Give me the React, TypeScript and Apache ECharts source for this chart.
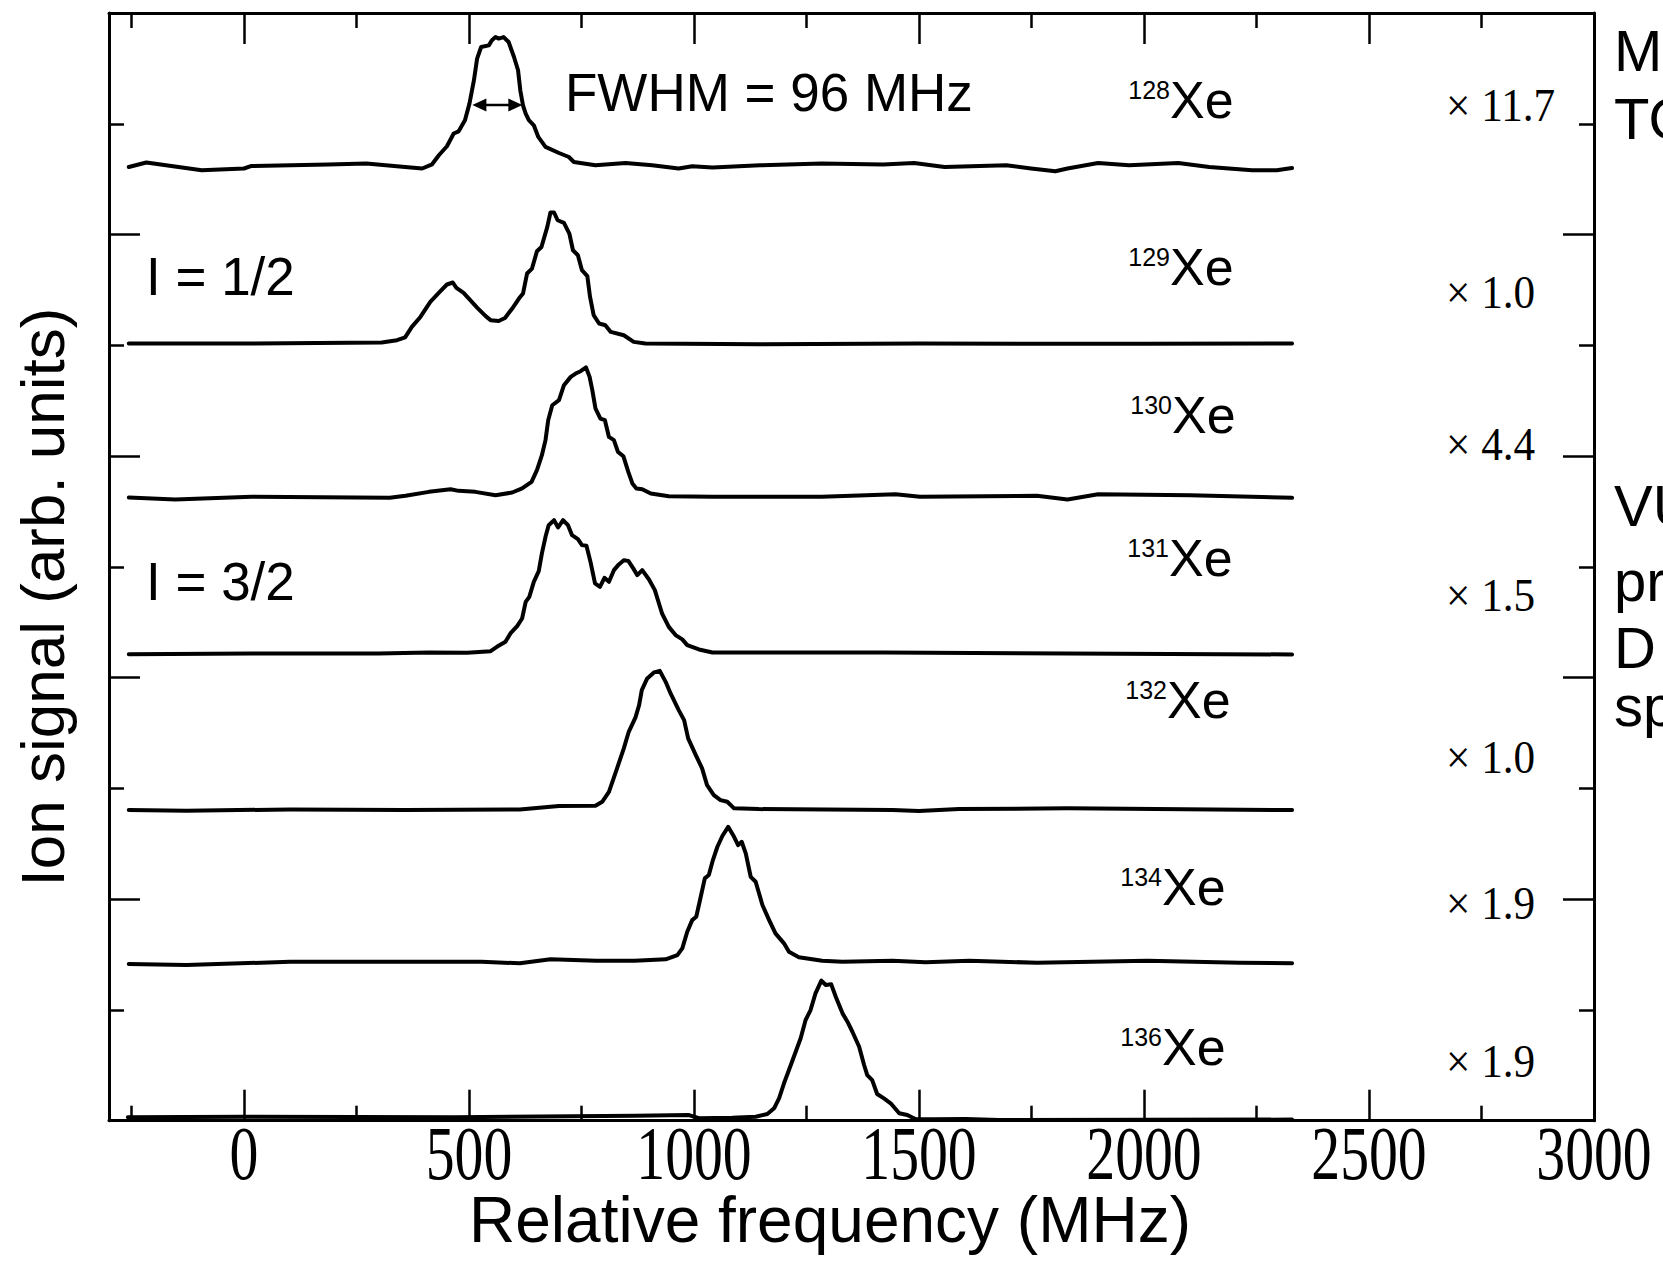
import React, { useEffect, useRef } from "react";
import * as echarts from "echarts";

// ---------- data (relative frequency in MHz, ion signal in arb. units incl. vertical offset) ----------
const xMin = -300;
const xMax = 3000;
const yMin = 0;
const yMax = 10;
const xMajorTicks = [0, 500, 1000, 1500, 2000, 2500, 3000];
const xMinorTicks = [-250, 250, 750, 1250, 1750, 2250, 2750];
const xTickLabels = ["0", "500", "1000", "1500", "2000", "2500", "3000"];

const xe128: number[][] = [
  [-256, 8.61], [-217, 8.65], [-94, 8.58], [0, 8.596], [17, 8.619], [187, 8.632], [272, 8.641],
  [358, 8.61], [396, 8.596], [418, 8.634], [433, 8.716], [451, 8.797], [466, 8.912], [477, 8.932],
  [491, 9.032], [501, 9.182], [511, 9.393], [518, 9.588], [527, 9.693], [544, 9.708], [551, 9.754],
  [559, 9.783], [566, 9.769], [577, 9.783], [588, 9.738], [600, 9.603], [609, 9.483], [614, 9.302],
  [620, 9.167], [626, 9.092], [633, 9.032], [644, 8.986], [654, 8.881], [670, 8.791], [700, 8.736],
  [722, 8.7], [733, 8.655], [781, 8.625], [848, 8.646], [907, 8.625], [966, 8.596], [996, 8.616],
  [1041, 8.605], [1147, 8.625], [1284, 8.641], [1420, 8.632], [1489, 8.646], [1557, 8.61],
  [1694, 8.625], [1749, 8.596], [1803, 8.571], [1830, 8.596], [1898, 8.646], [1967, 8.625],
  [2076, 8.646], [2145, 8.61], [2240, 8.58], [2295, 8.58], [2329, 8.601],
];

const xe129: number[][] = [
  [-256, 7.016], [17, 7.016], [306, 7.025], [340, 7.046], [358, 7.071], [373, 7.166], [392, 7.256],
  [414, 7.392], [437, 7.491], [451, 7.549], [464, 7.567], [472, 7.518], [488, 7.473], [518, 7.341],
  [537, 7.263], [548, 7.227], [566, 7.22], [580, 7.247], [596, 7.332], [611, 7.422], [620, 7.467],
  [629, 7.648], [640, 7.693], [651, 7.849], [661, 7.888], [674, 8.069], [681, 8.199], [689, 8.199],
  [697, 8.129], [711, 8.105], [723, 8.009], [731, 7.858], [742, 7.813], [751, 7.678], [763, 7.624],
  [769, 7.437], [777, 7.272], [789, 7.197], [803, 7.181], [815, 7.121], [844, 7.091], [866, 7.031],
  [892, 7.016], [1144, 7.01], [1500, 7.016], [2000, 7.013], [2329, 7.016],
];

const xe130: number[][] = [
  [-256, 5.626], [-153, 5.608], [17, 5.632], [324, 5.623], [359, 5.641], [411, 5.677], [459, 5.701],
  [477, 5.686], [514, 5.677], [559, 5.647], [596, 5.671], [618, 5.708], [639, 5.767], [651, 5.873],
  [662, 6.008], [670, 6.144], [676, 6.324], [685, 6.459], [700, 6.505], [711, 6.64], [726, 6.715],
  [737, 6.745], [748, 6.766], [760, 6.8], [768, 6.715], [774, 6.595], [781, 6.43], [792, 6.339],
  [802, 6.324], [811, 6.173], [822, 6.144], [831, 6.038], [843, 5.999], [854, 5.857], [863, 5.753],
  [872, 5.708], [885, 5.701], [904, 5.662], [944, 5.638], [1041, 5.632], [1284, 5.632],
  [1448, 5.656], [1502, 5.632], [1762, 5.641], [1830, 5.608], [1898, 5.656], [2103, 5.647],
  [2329, 5.623],
];

const xe131: number[][] = [
  [-256, 4.212], [17, 4.218], [299, 4.218], [411, 4.227], [496, 4.224], [548, 4.239], [562, 4.278],
  [581, 4.323], [592, 4.399], [607, 4.465], [618, 4.534], [626, 4.684], [634, 4.729], [644, 4.865],
  [655, 4.961], [662, 5.121], [670, 5.271], [677, 5.376], [689, 5.421], [698, 5.356], [709, 5.421],
  [720, 5.376], [729, 5.286], [742, 5.25], [751, 5.196], [761, 5.19], [770, 5.045], [780, 4.85],
  [791, 4.819], [801, 4.901], [811, 4.865], [822, 4.97], [833, 5.022], [844, 5.06], [854, 5.054],
  [865, 4.986], [874, 4.925], [885, 4.97], [900, 4.886], [913, 4.79], [929, 4.579], [944, 4.458],
  [959, 4.384], [974, 4.345], [985, 4.293], [1011, 4.254], [1041, 4.227], [1421, 4.227],
  [1830, 4.218], [2329, 4.209],
];

const xe132: number[][] = [
  [-256, 2.804], [-128, 2.798], [102, 2.81], [358, 2.804], [613, 2.81], [681, 2.834], [700, 2.84],
  [781, 2.843], [796, 2.879], [811, 2.969], [829, 3.181], [844, 3.361], [855, 3.511], [870, 3.641],
  [878, 3.752], [884, 3.887], [896, 3.993], [911, 4.047], [924, 4.061], [937, 3.962], [948, 3.857],
  [966, 3.707], [978, 3.616], [987, 3.451], [1004, 3.301], [1018, 3.181], [1029, 3.03],
  [1044, 2.94], [1059, 2.894], [1074, 2.879], [1089, 2.82], [1144, 2.813], [1293, 2.81],
  [1441, 2.804], [1500, 2.795], [1589, 2.813], [1830, 2.82], [2329, 2.804],
];

const xe134: number[][] = [
  [-256, 1.414], [-128, 1.405], [102, 1.435], [272, 1.435], [528, 1.435], [613, 1.421],
  [681, 1.457], [783, 1.444], [868, 1.444], [937, 1.457], [963, 1.495], [974, 1.556], [985, 1.706],
  [996, 1.811], [1005, 1.841], [1015, 2.022], [1024, 2.188], [1033, 2.218], [1042, 2.353],
  [1052, 2.473], [1063, 2.57], [1076, 2.653], [1089, 2.563], [1098, 2.488], [1106, 2.518],
  [1115, 2.413], [1126, 2.202], [1137, 2.157], [1152, 1.947], [1167, 1.811], [1181, 1.691],
  [1200, 1.601], [1211, 1.525], [1233, 1.475], [1285, 1.444], [1330, 1.435], [1441, 1.444],
  [1515, 1.43], [1612, 1.444], [1762, 1.426], [2008, 1.444], [2213, 1.426], [2329, 1.421],
];

const xe136: number[][] = [
  [-258, 0.031], [-3, 0.036], [468, 0.031], [869, 0.045], [989, 0.051], [1011, 0.022],
  [1085, 0.027], [1137, 0.036], [1163, 0.06], [1178, 0.112], [1189, 0.202], [1200, 0.338],
  [1211, 0.458], [1226, 0.623], [1237, 0.744], [1248, 0.909], [1259, 0.999], [1270, 1.15],
  [1283, 1.264], [1293, 1.225], [1305, 1.231], [1315, 1.119], [1330, 0.969], [1341, 0.894],
  [1352, 0.803], [1367, 0.668], [1378, 0.503], [1385, 0.412], [1396, 0.367], [1407, 0.241],
  [1422, 0.202], [1437, 0.157], [1456, 0.067], [1474, 0.051], [1493, 0.013], [1530, 0.013],
  [1604, 0.015], [1678, 0.006], [2329, 0.01],
];

const isotopes = ["128", "129", "130", "131", "132", "134", "136"];
const spectra = [xe128, xe129, xe130, xe131, xe132, xe134, xe136];
const multipliers = ["11.7", "1.0", "4.4", "1.5", "1.0", "1.9", "1.9"];

// FWHM arrow (arrow-head centres, MHz) and level
const fwhmArrowX = [523, 603];
const fwhmArrowLevel = 9.17;

const xTitle = "Relative frequency (MHz)";
const yTitle = "Ion signal (arb. units)";
const fwhmText = "FWHM = 96 MHz";
const spinTexts = ["I = 1/2", "I = 3/2"];
const sideTextsTop = ["M", "TO"];
const sideTextsBottom = ["VU", "pr", "D", "sp"];

// ---------- layout / styles ----------
const W = 1663;
const H = 1262;
const SANS = "'Liberation Sans', Arial, Helvetica, sans-serif";
const SERIF = "'Liberation Serif', 'Times New Roman', Times, serif";
const INK = "#000";

const isoLabelPos = [
  { x: 1170, base: 118 },
  { x: 1170, base: 285 },
  { x: 1172, base: 433 },
  { x: 1169, base: 576 },
  { x: 1167, base: 718 },
  { x: 1162, base: 905 },
  { x: 1162, base: 1065 },
];
const multPosY = [105, 292, 444, 595, 757, 903, 1061];
const spinPos = [
  { x: 146, base: 295 },
  { x: 146, base: 600 },
];

function text(x: number, y: number, str: string, fontSize: number, family: string, extra: any = {}) {
  const { align = "left", scaleX = 1, rotation = 0 } = extra;
  return {
    type: "text",
    x,
    y,
    scaleX,
    rotation,
    silent: true,
    style: {
      text: str,
      fontSize,
      fontFamily: family,
      fill: INK,
      align,
      verticalAlign: "middle",
    },
  };
}

function baseOption(): any {
  const axisLine = { show: true, onZero: false, lineStyle: { color: INK, width: 3 } };
  const noLine = { show: false, onZero: false };
  const xAxisCommon = {
    type: "value",
    min: xMin,
    max: xMax,
    splitLine: { show: false },
    axisLabel: { show: false },
  };
  const yAxisCommon = {
    type: "value",
    min: yMin,
    max: yMax,
    interval: 2,
    splitLine: { show: false },
    minorSplitLine: { show: false },
    axisLabel: { show: false },
    axisLine,
    axisTick: { show: true, inside: true, length: 31, lineStyle: { color: INK, width: 2.5 } },
    minorTick: { show: true, splitNumber: 2, length: 15, lineStyle: { color: INK, width: 2.5 } },
  };
  const majorTick = { show: true, inside: true, length: 31, customValues: xMajorTicks, lineStyle: { color: INK, width: 2.5 } };
  const minorTick = { show: true, inside: true, length: 15, customValues: xMinorTicks, lineStyle: { color: INK, width: 2.5 } };

  const curveSeries = spectra.map((d, i) => ({
    type: "line",
    name: isotopes[i] + "Xe",
    data: d,
    xAxisIndex: 0,
    yAxisIndex: 0,
    showSymbol: false,
    symbol: "none",
    clip: false,
    silent: true,
    lineStyle: { color: INK, width: 4, join: "round", cap: "round" },
  }));

  const arrowSeries = {
    type: "line",
    name: "FWHM",
    xAxisIndex: 0,
    yAxisIndex: 0,
    silent: true,
    clip: false,
    symbol: "triangle",
    symbolSize: [13, 14],
    showSymbol: true,
    itemStyle: { color: INK },
    lineStyle: { color: INK, width: 2.5 },
    data: [
      { value: [fwhmArrowX[0], fwhmArrowLevel], symbolRotate: 90 },
      { value: [fwhmArrowX[1], fwhmArrowLevel], symbolRotate: -90 },
    ],
  };

  return {
    animation: false,
    backgroundColor: "#fff",
    grid: { left: 109, top: 13, right: 69, bottom: 141.3, containLabel: false },
    xAxis: [
      { ...xAxisCommon, position: "bottom", axisLine, axisTick: majorTick },
      { ...xAxisCommon, position: "bottom", axisLine: noLine, axisTick: minorTick },
      { ...xAxisCommon, position: "top", axisLine, axisTick: majorTick },
      { ...xAxisCommon, position: "top", axisLine: noLine, axisTick: minorTick },
    ],
    yAxis: [
      { ...yAxisCommon, position: "left" },
      { ...yAxisCommon, position: "right" },
    ],
    series: [...curveSeries, arrowSeries],
  };
}

export default function App() {
  const ref = useRef<HTMLDivElement>(null);

  useEffect(() => {
    if (!ref.current) return;
    const chart = echarts.init(ref.current, null, { renderer: "svg", width: W, height: H });
    chart.setOption(baseOption());

    const g: any[] = [];
    // x tick labels (condensed serif), positioned through the axis scale
    xMajorTicks.forEach((v, i) => {
      const px = chart.convertToPixel({ xAxisIndex: 0 }, v) as number;
      g.push(text(px, 1153, xTickLabels[i], 77, SERIF, { align: "center", scaleX: 0.75 }));
    });
    // axis titles
    g.push(text(830, 1220, xTitle, 64, SANS, { align: "center" }));
    g.push(text(42, 597, yTitle, 62, SANS, { align: "center", rotation: Math.PI / 2 }));
    // FWHM and spin annotations
    g.push(text(565, 110.7 - 18.4, fwhmText, 53, SANS));
    spinTexts.forEach((s, i) => g.push(text(spinPos[i].x, spinPos[i].base - 18.4, s, 53, SANS)));
    // isotope labels
    isotopes.forEach((iso, i) => {
      const p = isoLabelPos[i];
      g.push(text(p.x, p.base - 27.7, iso, 25, SANS, { align: "right" }));
      g.push(text(p.x, p.base - 18, "Xe", 52, SANS));
    });
    // multipliers
    multipliers.forEach((m, i) => {
      g.push(text(1446, multPosY[i], "\u00d7 " + m, 47, SERIF, { scaleX: 0.92 }));
    });
    // side texts clipped at the right edge (as in the reference)
    const topBases = [70, 138];
    sideTextsTop.forEach((s, i) => g.push(text(1614, topBases[i] - 20, s, 58, SANS)));
    const botBases = [525, 600, 667, 725];
    sideTextsBottom.forEach((s, i) => g.push(text(1614, botBases[i] - 20, s, 58, SANS)));

    chart.setOption({ graphic: g });
    return () => chart.dispose();
  }, []);

  return (
    <div
      ref={ref}
      style={{ position: "absolute", left: 0, top: 0, width: W, height: H, overflow: "hidden", background: "#fff" }}
    />
  );
}
